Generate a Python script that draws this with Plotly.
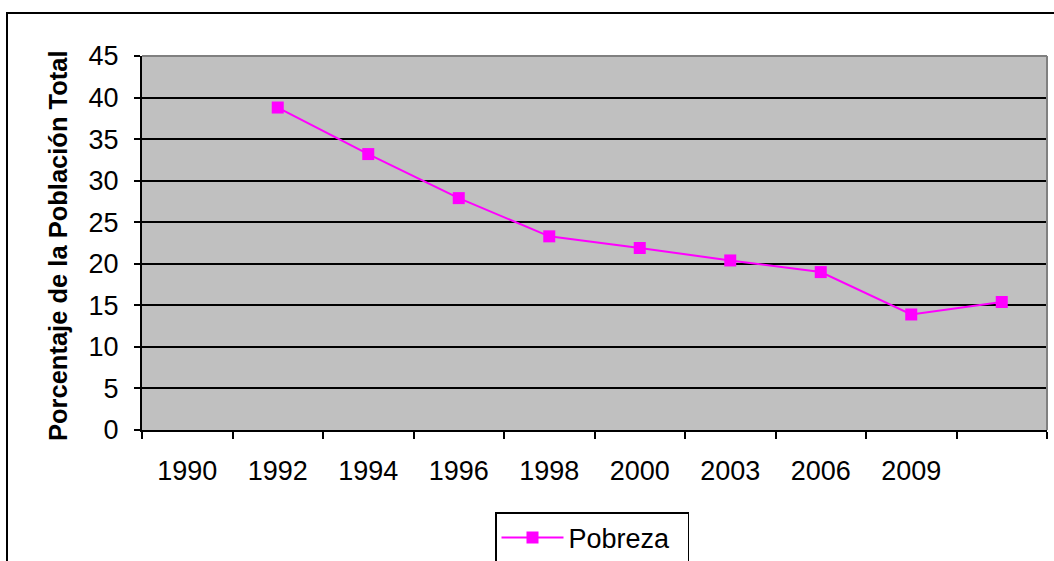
import plotly.graph_objects as go

categories = ["1990", "1992", "1994", "1996", "1998", "2000", "2003", "2006", "2009", " "]
pobreza = [None, 38.8, 33.2, 27.9, 23.3, 21.9, 20.4, 19.0, 13.9, 15.4]
series_name = "Pobreza"
y_title = "Porcentaje de la Población Total"

W, H = 1054, 561
L, R, T, B = 142, 7, 56, 131
pw, ph = W - L - R, H - T - B

def px_x(p):
    return (p - L) / pw

def px_y(p):
    return 1 - (p - T) / ph

FONT = "Arial, Liberation Sans, sans-serif"
FS = 27

fig = go.Figure()
fig.add_trace(go.Scatter(
    x=categories, y=pobreza, name=series_name, mode="lines+markers",
    line=dict(color="#FF00FF", width=2),
    marker=dict(symbol="square", size=12, color="#FF00FF"),
    showlegend=True,
))

fig.update_layout(
    width=W, height=H,
    margin=dict(l=L, r=R, t=T, b=B, autoexpand=False),
    paper_bgcolor="white", plot_bgcolor="#C0C0C0",
    font=dict(family=FONT, size=FS, color="black"),
    xaxis=dict(
        type="category", categoryorder="array", categoryarray=categories,
        range=[-0.5, len(categories) - 0.5],
        tickson="boundaries", ticks="outside", ticklen=7, tickwidth=2, tickcolor="black",
        showline=True, linecolor="black", linewidth=2,
        showgrid=False, zeroline=False, automargin=False,
        tickfont=dict(size=FS, family=FONT), ticklabelstandoff=16,
    ),
    yaxis=dict(
        range=[0, 45], dtick=5, tick0=0,
        ticks="outside", ticklen=6, tickwidth=2, tickcolor="black",
        showline=True, linecolor="black", linewidth=2,
        showgrid=True, gridcolor="black", gridwidth=1.5, zeroline=False, automargin=False,
        tickfont=dict(size=FS, family=FONT), ticklabelstandoff=10,
    ),
    legend=dict(
        x=px_x(495), y=px_y(512), xanchor="left", yanchor="top",
        orientation="h", entrywidth=114, entrywidthmode="pixels",
        bgcolor="white", bordercolor="black", borderwidth=1.5,
        font=dict(size=FS, family=FONT), itemwidth=62,
    ),
    annotations=[
        dict(
            text="<b>" + y_title + "</b>", textangle=-90,
            xref="paper", yref="paper", x=px_x(57.5), y=px_y(245.5),
            xanchor="center", yanchor="middle", showarrow=False,
            font=dict(size=25.5, family=FONT, color="black"),
        ),
        dict(
            text="p", xref="paper", yref="paper", x=px_x(295), y=px_y(2),
            xanchor="center", yanchor="bottom", showarrow=False, borderpad=0,
            font=dict(size=26, family="Liberation Serif, Times New Roman, serif", color="black"),
        ),
    ],
    shapes=[
        dict(type="line", xref="paper", yref="paper", x0=0, x1=1, y0=1, y1=1,
             line=dict(color="#808080", width=2), layer="above"),
        dict(type="line", xref="paper", yref="paper", x0=1, x1=1, y0=0, y1=1,
             line=dict(color="#808080", width=2), layer="above"),
        dict(type="rect", xref="paper", yref="paper",
             x0=px_x(7), x1=px_x(1070), y0=px_y(590), y1=px_y(13),
             line=dict(color="black", width=2), fillcolor="rgba(0,0,0,0)", layer="below"),
    ],
)

fig.write_html("out.html", config={"displayModeBar": False},
               post_script="document.body.style.margin='0';document.body.style.overflow='hidden';")
